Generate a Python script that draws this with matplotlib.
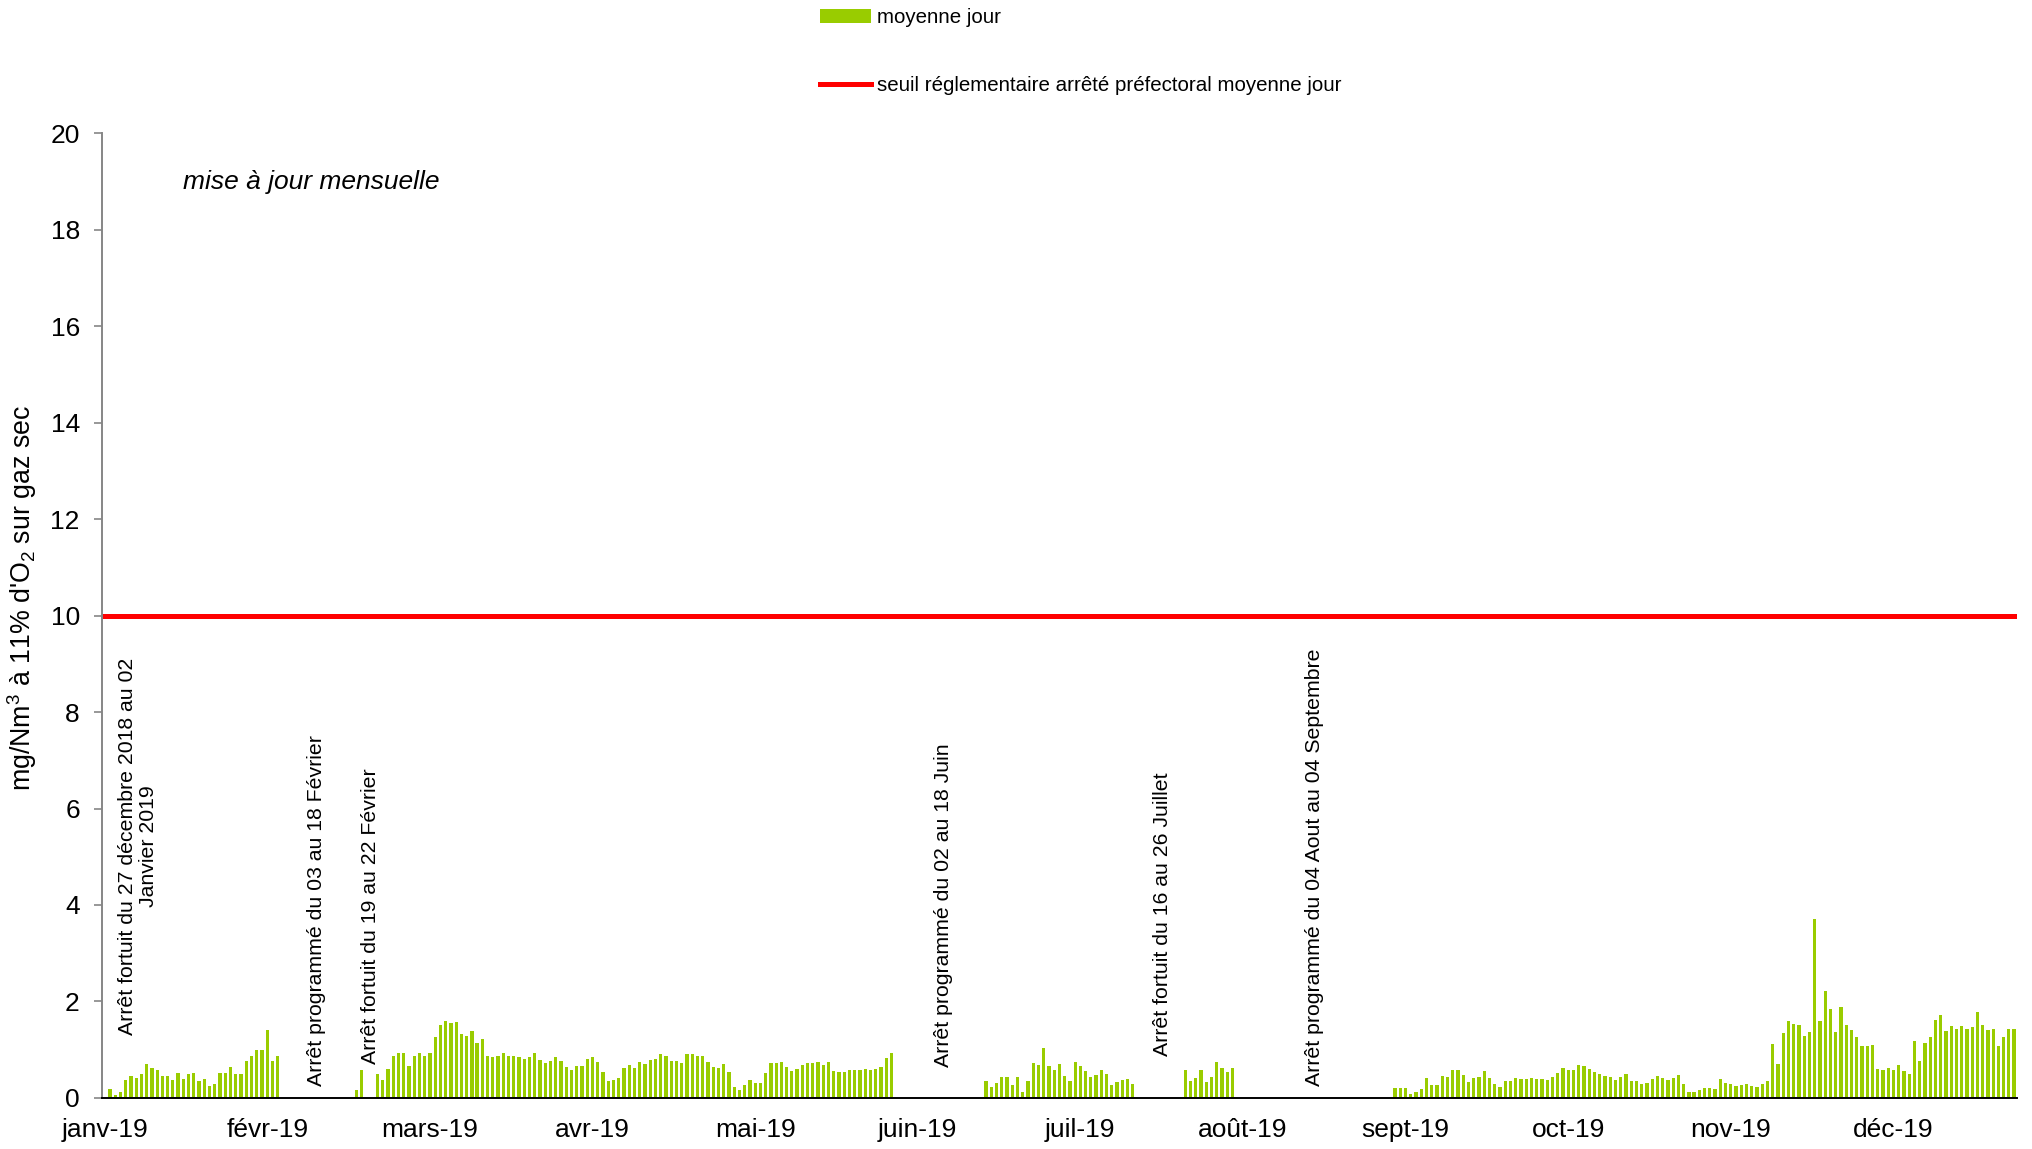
import numpy as np
import pandas as pd
import matplotlib
matplotlib.use("Agg")
import matplotlib.pyplot as plt
from matplotlib.patches import Patch
from matplotlib.lines import Line2D

plt.rcParams['font.family'] = ['Liberation Sans', 'DejaVu Sans']
plt.rcParams['mathtext.default'] = 'regular'

#%% data : moyennes journalieres 2019 (mg/Nm3), par periode de fonctionnement
days = pd.date_range("2019-01-01", "2019-12-31", freq="D")

start_jan = "2019-01-02"
vals_jan = [0.19, 0.06, 0.13, 0.37, 0.46, 0.41, 0.50, 0.70, 0.63, 0.58, 0.46,
            0.46, 0.38, 0.52, 0.40, 0.50, 0.52, 0.35, 0.39, 0.25, 0.28, 0.51,
            0.51, 0.65, 0.49, 0.50, 0.77, 0.88, 1.00, 1.00, 1.41, 0.77, 0.86]

start_feb = "2019-02-18"
vals_feb = [0.17, 0.57]

start_spring = "2019-02-22"
vals_spring = [0.50, 0.38, 0.61, 0.86, 0.93, 0.93, 0.67, 0.88, 0.93, 0.86,
               0.93, 1.27, 1.51, 1.59, 1.55, 1.58, 1.32, 1.28, 1.39, 1.13,
               1.22, 0.88, 0.84, 0.86, 0.94, 0.88, 0.86, 0.84, 0.81, 0.85,
               0.93, 0.78, 0.72, 0.77, 0.84, 0.77, 0.65, 0.57, 0.67, 0.67,
               0.81, 0.85, 0.75, 0.54, 0.36, 0.38, 0.41, 0.63, 0.69, 0.63,
               0.75, 0.70, 0.78, 0.81, 0.91, 0.86, 0.77, 0.77, 0.72, 0.91,
               0.91, 0.88, 0.86, 0.75, 0.65, 0.63, 0.70, 0.54, 0.22, 0.16,
               0.26, 0.38, 0.32, 0.31, 0.52, 0.72, 0.72, 0.74, 0.64, 0.56,
               0.61, 0.69, 0.72, 0.72, 0.75, 0.68, 0.75, 0.56, 0.54, 0.54,
               0.57, 0.59, 0.57, 0.60, 0.57, 0.60, 0.65, 0.82, 0.93]

start_summer = "2019-06-18"
vals_summer = [0.35, 0.22, 0.32, 0.44, 0.44, 0.26, 0.44, 0.12, 0.35, 0.73,
               0.69, 1.04, 0.67, 0.59, 0.71, 0.46, 0.35, 0.75, 0.67, 0.56,
               0.44, 0.48, 0.59, 0.50, 0.26, 0.34, 0.37, 0.39, 0.30]

start_july = "2019-07-26"
vals_july = [0.59, 0.36, 0.41, 0.57, 0.33, 0.44, 0.75, 0.63, 0.53, 0.63]

start_autumn = "2019-09-04"
vals_autumn = [0.21, 0.21, 0.20, 0.09, 0.12, 0.19, 0.41, 0.26, 0.27, 0.46,
               0.43, 0.59, 0.59, 0.47, 0.33, 0.41, 0.44, 0.55, 0.41, 0.28,
               0.22, 0.36, 0.36, 0.42, 0.40, 0.39, 0.41, 0.39, 0.39, 0.37,
               0.44, 0.52, 0.63, 0.59, 0.57, 0.68, 0.67, 0.61, 0.54, 0.50,
               0.45, 0.44, 0.38, 0.44, 0.50, 0.35, 0.36, 0.30, 0.32, 0.39,
               0.46, 0.42, 0.37, 0.41, 0.48, 0.29, 0.12, 0.13, 0.17, 0.20,
               0.20, 0.19,
               0.39, 0.32, 0.29, 0.25, 0.26, 0.30, 0.25, 0.22, 0.28, 0.35,
               1.11, 0.71, 1.35, 1.60, 1.53, 1.51, 1.29, 1.37, 3.71, 1.60,
               2.22, 1.84, 1.37, 1.89, 1.51, 1.40, 1.26, 1.07, 1.08, 1.10,
               0.61, 0.59, 0.63, 0.59, 0.69, 0.55, 0.50, 1.18, 0.77, 1.13,
               1.27, 1.61, 1.73, 1.39, 1.50, 1.42, 1.50, 1.44, 1.48, 1.79,
               1.51, 1.40, 1.44, 1.08, 1.27, 1.42, 1.42]

seuil = 10
month_labels = ['janv-19', 'févr-19', 'mars-19', 'avr-19', 'mai-19', 'juin-19',
                'juil-19', 'août-19', 'sept-19', 'oct-19', 'nov-19', 'déc-19']

# (texte, jour du centre, valeur y du centre)
arrets = [
    ("Arrêt fortuit du 27 décembre 2018 au 02\nJanvier 2019", 6.3, 5.22),
    ("Arrêt programmé du 03 au 18 Février", 40.3, 3.88),
    ("Arrêt fortuit du 19 au 22 Février", 50.6, 3.76),
    ("Arrêt programmé du 02 au 18 Juin", 160.0, 4.0),
    ("Arrêt fortuit du 16 au 26 Juillet", 201.6, 3.81),
    ("Arrêt programmé du 04 Aout au 04 Septembre", 230.6, 4.78),
]

#%% serie journaliere complete (NaN = arret)
serie = pd.Series(np.nan, index=days)
for start, vals in [(start_jan, vals_jan), (start_feb, vals_feb),
                    (start_spring, vals_spring), (start_summer, vals_summer),
                    (start_july, vals_july), (start_autumn, vals_autumn)]:
    idx = pd.date_range(start, periods=len(vals), freq="D")
    serie.loc[idx] = vals

x = np.arange(len(days))
ok = serie.notna().values

#%%
fig = plt.figure(figsize=(20.33, 11.49), dpi=100)
ax = fig.add_axes([0.0502, 0.0444, 0.9418, 0.8398])

ax.bar(x[ok], serie.values[ok], width=0.62, color='#99CC00', label='moyenne jour')
ax.axhline(seuil, color='#FF0000', lw=3.6,
           label='seuil réglementaire arrêté préfectoral moyenne jour')

ax.set_xlim(-0.5, len(days) - 0.5)
ax.set_ylim(0, 20)
ax.set_yticks(np.arange(0, 21, 2))
ax.set_xticks(np.arange(0, 12) * 31)
ax.set_xticklabels(month_labels)
ax.tick_params(axis='x', length=0, pad=14.5, labelsize=19)
ax.tick_params(axis='y', length=6, width=1.2, color='#868686', pad=10, labelsize=19)

for s in ['top', 'right']:
    ax.spines[s].set_visible(False)
ax.spines['left'].set_color('#868686')
ax.spines['left'].set_linewidth(1.4)
ax.spines['bottom'].set_color('black')
ax.spines['bottom'].set_linewidth(1.4)

ax.set_ylabel("mg/Nm$^3$ à 11% d'O$_2$ sur gaz sec", fontsize=19.3)
ax.yaxis.set_label_coords(-0.0330, 0.518)

ax.text(0.0423, 0.949, "mise à jour mensuelle", transform=ax.transAxes,
        fontsize=19, style='italic', ha='left', va='center')

for txt, xc, yc in arrets:
    ax.text(xc, yc, txt, rotation=90, fontsize=15.3, ha='center', va='center',
            multialignment='center', linespacing=1.15)

handles = [Patch(facecolor='#99CC00', edgecolor='none'),
           Line2D([0], [0], color='#FF0000', lw=3.6)]
labels = ['moyenne jour', 'seuil réglementaire arrêté préfectoral moyenne jour']
fig.legend(handles, labels, loc='upper left', bbox_to_anchor=(820 / 2033, 1 - 8 / 1149),
           frameon=False, fontsize=14.8, handlelength=2.5, handletextpad=0.25,
           labelspacing=2.4, borderpad=0, borderaxespad=0)

fig.savefig("out.png", dpi=100)
